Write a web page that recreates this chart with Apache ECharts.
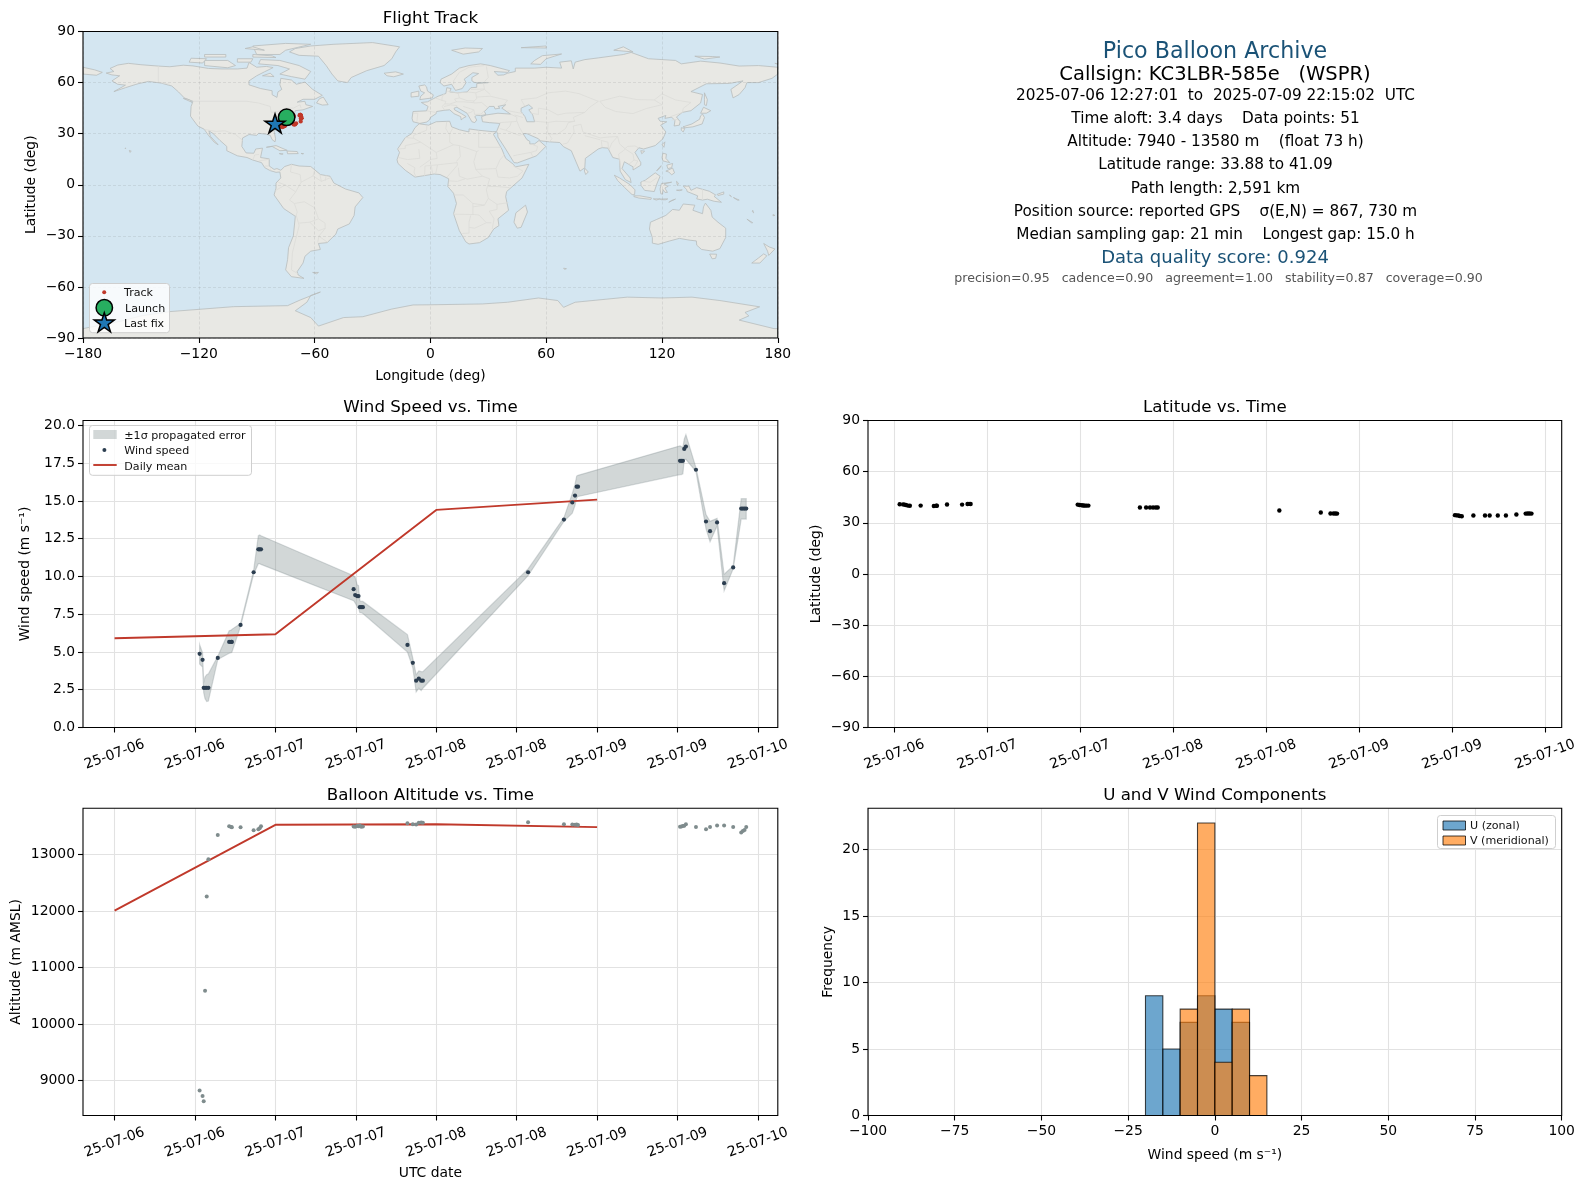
<!DOCTYPE html>
<html><head><meta charset="utf-8">
<style>html,body{margin:0;padding:0;background:#fff}#c{width:1586px;height:1189px}</style>
<script src="https://cdn.jsdelivr.net/npm/echarts@6/dist/echarts.min.js"></script>
</head><body><div id="c"></div>
<script>
// ---------- data ----------
const timeTickHours = [0,12,24,36,48,60,72,84,96];
const timeTickLabels = ['25-07-06','25-07-06','25-07-07','25-07-07','25-07-08','25-07-08','25-07-09','25-07-09','25-07-10'];
const latTickHours = [12,24,36,48,60,72,84,96];
const latTickLabels = ['25-07-06','25-07-07','25-07-07','25-07-08','25-07-08','25-07-09','25-07-09','25-07-10'];
const hours = [12.69,13.13,13.3,13.5,13.75,14.0,15.4,17.1,17.4,17.5,18.8,20.75,21.45,21.65,21.85,35.67,35.9,36.2,36.4,36.6,36.8,37.05,43.7,44.5,45.0,45.4,45.75,46.0,61.7,67.05,68.3,68.7,68.95,69.15,84.37,84.57,84.8,85.0,85.25,86.75,88.25,88.85,89.9,90.95,92.3,93.5,93.75,94.0,94.25];
const windSpeed = [4.88,4.48,2.63,2.63,2.63,2.63,4.61,5.67,5.67,5.67,6.79,10.28,11.8,11.8,11.8,9.16,8.77,8.7,8.7,7.97,7.97,7.97,5.47,4.28,3.1,3.23,3.1,3.1,10.28,13.77,14.9,15.36,15.95,15.95,17.66,17.66,17.66,18.45,18.6,17.07,13.64,13.0,13.58,9.56,10.6,14.5,14.5,14.5,14.5];
const windLow = [4.2,4.0,2.3,1.9,1.72,1.75,4.5,4.92,4.95,4.98,6.7,10.15,10.85,10.85,10.8,8.4,8.25,8.0,7.9,7.6,7.6,7.55,5.0,3.95,2.35,2.6,2.45,2.6,10.05,13.65,14.2,14.7,15.2,15.3,16.75,16.75,16.8,17.75,17.75,16.95,13.15,12.3,13.35,9.05,10.5,13.8,13.8,13.8,13.8];
const windHigh = [5.5,4.95,3.0,3.35,3.5,3.55,4.72,6.41,6.45,6.5,6.88,10.4,12.7,12.75,12.7,10.05,9.95,9.45,9.4,8.4,8.35,8.35,6.15,4.6,3.5,3.75,3.7,3.7,10.5,13.9,15.5,16.1,16.65,16.7,18.65,18.6,18.55,19.1,19.4,17.2,14.1,13.65,13.85,10.15,10.7,15.15,15.15,15.15,15.15];
const altitude = [8820,8720,8630,10590,12260,12918,13349,13503,13490,13486,13486,13432,13450,13470,13503,13500,13495,13510,13505,13520,13495,13500,13557,13540,13535,13565,13570,13565,13575,13540,13535,13530,13535,13525,13495,13500,13510,13515,13540,13490,13450,13490,13520,13520,13490,13395,13420,13440,13490];
const latitude = [40.9,40.8,40.7,40.5,40.1,40.0,40.1,39.9,40.0,40.0,40.75,40.7,41.0,41.09,41.05,40.7,40.5,40.3,40.2,40.1,40.1,40.1,39.0,39.0,39.0,39.0,39.0,39.0,37.2,36.1,35.5,35.5,35.5,35.4,34.5,34.4,34.3,34.0,33.88,34.3,34.3,34.3,34.3,34.3,34.9,35.4,35.5,35.5,35.4];
const longitude = [-74.5,-74.3,-74,-73.5,-73,-72.5,-71.5,-71,-71,-71,-70.9,-67.8,-67.5,-67.4,-67.3,-67.2,-67.2,-67.2,-67.1,-67.1,-67,-67,-66.9,-66.8,-66.9,-66.9,-67,-67,-67.2,-69.6,-70,-70.3,-70.6,-70.9,-75.4,-75.7,-76,-76.4,-76.8,-77.5,-78,-78.5,-79,-79.4,-79.8,-80.1,-80.3,-80.6,-80.8];
const launchPoint = [-74.5,39.6];
const lastFixPoint = [-80.5,36];
const dailyHours = [0,24,48,72];
const dailyWind = [5.91,6.18,14.41,15.09];
const dailyAlt = [12010,13530,13540,13490];
const binLeft = [-20,-15,-10,-5,0,5,10];
const binWidth = 5;
const uCounts = [9,5,7,9,8,7,0];
const vCounts = [0,0,8,22,4,8,3];
const headerLines = [
 ['Pico Balloon Archive',52.7,22.2,'#1a5276',1215],
 ['Callsign: KC3LBR-585e   (WSPR)',75,19.5,'#000',1215],
 ['2025-07-06 12:27:01  to  2025-07-09 22:15:02  UTC',96.3,15.27,'#000',1215.5],
 ['Time aloft: 3.4 days    Data points: 51',119.5,15.27,'#000',1215.5],
 ['Altitude: 7940 - 13580 m    (float 73 h)',142.3,15.27,'#000',1215.5],
 ['Latitude range: 33.88 to 41.09',165.5,15.27,'#000',1215.5],
 ['Path length: 2,591 km',188.6,15.27,'#000',1215.5],
 ['Position source: reported GPS    σ(E,N) = 867, 730 m',212,15.27,'#000',1215.5],
 ['Median sampling gap: 21 min    Longest gap: 15.0 h',235,15.27,'#000',1215.5],
 ['Data quality score: 0.924',258.2,18,'#1a5276',1215],
 ['precision=0.95   cadence=0.90   agreement=1.00   stability=0.87   coverage=0.90',278.7,12.6,'#555',1218.5]
];
// Coastlines as lon/lat rings (rough reading of the map)
const landPolys = [
 // Americas
 [[-168,65.6],[-164,66.5],[-166,68.3],[-162,70.3],[-156.5,71.3],[-150,70.5],[-141,69.7],[-135,69.3],[-128,70.2],[-123,69.8],[-115,68.3],[-108,68],[-100,68],[-95,68.5],[-94,71.8],[-90,69],[-85,69.5],[-81.5,68.8],[-86,66.3],[-90,64],[-94,61],[-94,58.7],[-88,56.5],[-82,55.2],[-82,52.9],[-79.5,51.3],[-79,54.5],[-77,56],[-78,58.7],[-77.5,62.5],[-72,61.5],[-69.5,59],[-65,60.3],[-61,56],[-56,52.5],[-60,50.2],[-66,50.2],[-69,48.5],[-65,49],[-64.5,47],[-61,46],[-66,44],[-70,43.5],[-70.5,41.7],[-74,40.5],[-75.5,38],[-76,35],[-78,34],[-81,31.5],[-80.2,27],[-80.5,25.2],[-82,26.5],[-83,29],[-85,29.7],[-89,30.2],[-90,29],[-94,29.5],[-97.3,27.5],[-97.7,22.5],[-95.5,18.7],[-91.5,18.5],[-90.5,21],[-87,21.5],[-88,16],[-83.5,15.2],[-83.5,11],[-81,9],[-79.5,9.5],[-77.5,8.5],[-75.5,10.7],[-72,12],[-68,11],[-62,10.7],[-57,6],[-52,5],[-50,1],[-44,-2.5],[-37,-4.8],[-35,-7.5],[-39,-13],[-39.5,-18],[-42,-23],[-48,-26],[-49,-29],[-53.5,-34],[-58,-34.5],[-57,-38],[-62,-39],[-65,-42],[-66,-46],[-69,-51],[-68.5,-53],[-65.5,-55],[-72,-54],[-75,-50],[-74,-44],[-73.5,-37],[-71,-30],[-70,-18.5],[-76,-14],[-81,-6],[-80,-2],[-80,1],[-77.5,4],[-78,7.5],[-80,7.3],[-83,8.3],[-85.8,10],[-87.5,13],[-92,14.5],[-95,16],[-100,17],[-105.5,20],[-105.5,22.5],[-109,26],[-112.5,30],[-114.8,31.7],[-114,28.5],[-110,23.5],[-112,25],[-115,29],[-117.2,32.6],[-120.5,34.5],[-122.5,37.5],[-124.3,40.3],[-124,46],[-123,49],[-127.5,51],[-130.5,54.5],[-134,58],[-139.5,59.7],[-146,60.7],[-151.5,59.3],[-153,58.8],[-158,57],[-164,54.7],[-158,58.5],[-162,59],[-165,61],[-161,64],[-165,64.5]],
 // Greenland
 [[-73,78],[-68,76],[-58,75.5],[-54,70],[-51,65],[-48,61],[-43,60],[-41,63],[-33,67],[-24,70],[-20,74],[-18,78],[-16,81],[-30,83.5],[-50,82.5],[-62,81.5],[-70,80]],
 // Canadian Arctic
 [[-62,66.5],[-65,62],[-72,63.5],[-78,65],[-73,68],[-79,70],[-89,71],[-88,73.5],[-78,73],[-68,70]],
 [[-90,76.5],[-78,76.5],[-75,79],[-62,82.5],[-75,83],[-92,81.5]],
 [[-117,70],[-105,68.7],[-101,70],[-105,73],[-117,73]],
 [[-125,72],[-118,71.5],[-116,74],[-124,74.3]],
 [[-92,75],[-80,74.7],[-82,75.7],[-92,76.5]],
 [[-100,72],[-93,72],[-92,74],[-100,74]],
 [[-117,75],[-106,75],[-106,76.5],[-117,76.5]],
 [[-96,80],[-86,79],[-92,81]],
 [[-87,64],[-81,63.5],[-83,65.5]],
 [[-59,48],[-56,46.8],[-53,47],[-55.5,51.5],[-57.5,50.5]],
 [[-128,50.7],[-123.5,48.4],[-125,50]],
 // Caribbean, Pacific
 [[-85,22],[-80,23],[-74.2,20.2],[-78,20],[-82,22.5]],
 [[-74.3,19.8],[-69,19.5],[-68.5,18.3],[-74,18.2]],
 [[-78.3,18.3],[-76.3,18.1],[-77,17.9]],
 [[-67,18.4],[-65.7,18.3],[-66,18]],
 [[-156,20.2],[-155,19.7],[-155.7,19]],
 [[-158,21.6],[-157.7,21.3],[-158.2,21.3]],
 // Iceland, British Isles
 [[-24,65.5],[-18,66.3],[-14,65],[-19,63.4],[-22.5,64]],
 [[-10,54],[-6,55],[-6,52],[-10,51.5]],
 [[-5.5,50],[1,51],[1.5,52.8],[-1.5,55],[-2,57.5],[-3,58.6],[-6,58],[-5,55],[-3,54],[-5,52]],
 // Eurasia
 [[-9,37],[-9.5,39],[-9,43],[-2,43.4],[-1.2,46],[-4.7,48.3],[-1.5,48.7],[1.5,50.5],[4,52],[8,53.6],[8.5,57],[10.7,56.5],[10,54.5],[14,54],[19,54.5],[21,57],[24,57.2],[24,59.4],[30,60],[23,60],[21.5,61],[21.5,63],[25,65.3],[22,65.8],[17.5,62],[18.5,60],[16.5,56.5],[13,55.4],[11,59],[7,58],[5,60],[5.5,62],[11,65],[15,68.5],[20,70],[26,71],[31,70],[41,67],[40,66],[33,66.5],[35,64.3],[38,64.5],[40,65.5],[44,66.5],[44,68.5],[54,68.5],[60,69],[68,68.5],[67,72],[73,72.8],[74,68],[75,72],[80,73.5],[87,74.5],[100,76.5],[104,77.7],[113,74],[127,73],[130,71],[140,72.6],[150,71.5],[160,69.7],[170,70],[180,69],[180,65],[177,62.5],[170,60],[164,60],[163,57],[160,53],[156.8,51],[155.7,56],[162,61],[155,59.5],[143,59.3],[135,54.7],[141,53],[140,48],[135,43.5],[130.5,42.5],[127.5,39.8],[129.4,37],[129,35],[126.3,34.5],[126.7,37.7],[125,39.7],[121.5,39],[122,40.7],[118,39],[119,37.3],[122.5,37],[119.3,35],[122,31],[120.5,27],[116.5,23],[110.5,21],[108,21.7],[106,19],[109,13],[109,11.5],[105,8.7],[105,10.5],[100.5,13.5],[99.3,9.5],[103.5,4],[104,1.3],[101,3],[98.3,8],[98,15],[94.5,16],[92,21.5],[89,21.8],[87,21],[80.3,15.5],[80,10],[77.5,8],[73,20],[69,22.3],[67,24.8],[61.5,25.2],[57,25.8],[56,27],[50,30],[48,30],[50,26.5],[51.5,25.5],[51.5,24],[54,24],[56.3,26],[59.8,22.5],[55,17],[45,12.8],[43.3,13],[39,21],[35,28],[34.9,29.5],[34.3,31.3],[36,36],[30.5,36.5],[27,37],[26.5,40],[29,41],[35,42],[41.5,41.5],[37,45],[39,47],[35,46],[36,45],[33.5,44.5],[33,46],[30.5,46],[28,43],[28.8,41.2],[26,40.6],[24,40.8],[23,40],[24,38],[23,36.5],[21.5,37],[19.5,41],[19,42],[13.7,45.5],[12.3,45],[12.5,44],[16,41.8],[18.5,40],[16.8,39],[16,38],[15.7,40],[12.3,41.7],[10,44],[7,43.7],[3.2,43],[3,41.8],[0,39.5],[-0.5,38],[-2,36.8],[-5.5,36]],
 [[-180,69],[-174,67.5],[-170,66],[-173,64.3],[-180,65]],
 // Africa, Madagascar
 [[-5.8,35.8],[-1,35],[3,37],[10,37.3],[11,34],[15,32.3],[20,31],[20,32.8],[25,32],[32,31.2],[34,31.2],[32.7,29.5],[34,27],[37,21],[39,15.5],[43,12],[44,10.5],[51,12],[47.5,4],[39.5,-4],[39,-7],[40.5,-15],[35,-20],[35.5,-24],[32.8,-26],[30,-31],[25.5,-34],[20,-34.8],[18.3,-33.5],[15,-27],[12,-17],[13.5,-11],[12,-5],[9,-1],[9.5,3.5],[5,6],[2,6.3],[-4,5.2],[-8,4.5],[-13,8.5],[-16.8,12.5],[-17.3,14.7],[-16,19],[-17,21],[-13,27.7],[-9.7,30],[-8,33.5]],
 [[49.3,-12],[50.3,-16],[47,-25],[45,-25.5],[43.3,-22],[44.3,-16.5]],
 // Asia islands
 [[80,9.7],[81.8,7.5],[80.5,6],[79.8,8]],
 [[141,41.5],[142,39.5],[140.8,35.7],[136,34],[132,33.5],[130.9,34],[135.5,35.7],[139.5,38.5],[140,40.5]],
 [[141.5,45.5],[145.3,43.5],[143,42],[140,42]],
 [[130,33.5],[131.8,33],[131,31],[130,32]],
 [[142,54],[143.5,50],[143,46.5],[142,47],[142,50]],
 [[121.5,25.2],[121,22],[120,23.5]],
 [[109,20],[111,19.7],[109.5,18.2]],
 [[120.5,18.5],[122.3,18],[122,15.5],[124,13],[120.5,14],[120,16]],
 [[122,8],[125.5,9.8],[126.5,7],[125,5.8],[123.5,7.5]],
 [[122.5,11.5],[125.5,12.5],[125,10],[123,9.5]],
 [[117.2,8.3],[119.5,11.2],[119.3,10.3],[117.5,8.3]],
 [[95.3,5.6],[98,4],[103.5,0],[106,-3],[105.8,-5.8],[104.5,-5.8],[100.5,-1.5],[97,2.5]],
 [[105.3,-6.5],[108.5,-6.5],[114.5,-7.7],[114.3,-8.6],[108,-7.8],[105.5,-7]],
 [[109,1.5],[111.5,2.8],[116.5,7],[119,5],[117.5,1],[116,-4],[111,-3.3],[109.2,-0.5]],
 [[119.7,0.7],[125,1.5],[121,0.5],[123.2,-0.9],[121.5,-1.9],[122.8,-4.5],[121.5,-4.5],[120.5,-2.8],[120.3,-5.5],[119.4,-5.3],[119,-2.5]],
 [[123.5,-10.3],[127,-8.4],[125,-9.2]],
 [[119,-8.4],[123,-8.3],[122,-8.8],[119.5,-8.8]],
 [[115.5,-8.3],[119,-8.3],[117,-9]],
 [[127.5,-3.2],[130.5,-3],[129,-3.5]],
 [[127.5,2],[128.5,1],[128,-0.5]],
 [[131,-0.8],[134,-0.8],[135,-3.3],[138,-1.7],[144.5,-3.8],[147.8,-6],[147,-6.8],[150.8,-10.3],[147,-9.7],[143.5,-8.5],[141,-9],[138,-8.3],[138.5,-6.5],[133,-4],[132.8,-2.8]],
 [[148.5,-5.7],[152,-4.2],[152,-5.5],[149,-6.3]],
 [[155,-6],[156,-7],[155.5,-6.7]],
 [[157,-7.5],[160,-9],[159,-9]],
 [[164,-20.2],[167,-22.3],[166.3,-22.3]],
 [[167,-15],[167.5,-16.5],[166.8,-15.8]],
 [[177.5,-17.5],[178.5,-18],[177.5,-18.2]],
 // Australia, NZ
 [[114,-22],[113.5,-26],[115,-31],[115,-34.3],[118,-35],[124,-33],[129,-31.5],[134,-32.5],[137.8,-33],[138,-35.5],[140.5,-38],[146.3,-39],[150,-37.5],[153,-31],[153,-25.5],[149,-22],[146,-19],[145.3,-15],[142.5,-10.8],[141.5,-13],[141,-17],[136,-15],[137,-12],[131,-11.3],[129,-15],[125.5,-14.5],[122,-18],[117,-20.5]],
 [[144.7,-40.7],[148.3,-40.8],[147.8,-43.2],[146,-43.5]],
 [[172.7,-40.6],[174.3,-41.7],[170.7,-46],[166.5,-46],[170,-43]],
 [[172.7,-34.5],[175.5,-36.5],[178.5,-37.7],[175.3,-41.5],[174.7,-39]],
 [[69,-49],[70.5,-49.3],[69.5,-49.7]],
 [[-61,-51.5],[-58,-51.5],[-59,-52.3]],
 // Arctic Eurasia
 [[11,79],[17,76.7],[25,78],[27,80],[18,80.3]],
 [[52,71],[57,70.7],[60,74],[68,76.8],[58,75.8],[54,73]],
 [[95,79],[105,78],[100,81]],
 [[137,75.5],[146,75.3],[150,75],[142,73.8]],
 [[178.5,71.3],[180,71],[180,70.8]],
 [[47,80.5],[60,80.3],[60,81.5]],
 // Antarctica
 [[-180,-84.5],[-160,-80],[-150,-77],[-135,-74.5],[-102,-71.6],[-74,-71],[-67.5,-67.7],[-57,-63],[-62,-65],[-64,-69],[-70,-74],[-62,-78],[-58,-83],[-45,-78],[-35,-77.5],[-20,-73],[-9,-70.6],[0,-70.5],[27,-70],[40,-69],[56,-66.5],[66,-68],[69,-72],[75,-69],[102,-66],[120,-66.5],[135.5,-66],[150,-68],[170.6,-71.7],[163,-75],[165,-77],[160,-79.5],[178,-84.5],[180,-84.5],[180,-90],[-180,-90]]
];
const inlandWater = [
 [[47,45],[51,47],[53,45],[51,44],[53,41],[54,37],[50,37],[49,40],[47,43]]
];
const borderLines = [
 [[-123,49],[-95,49],[-89,48],[-83,46],[-82.5,42.5],[-79,43],[-75,45],[-71,45],[-67.5,47],[-67,45]],
 [[-141,69.7],[-141,60.3],[-135,59]],
 [[-117,32.5],[-111,31.3],[-106.5,31.7],[-101,29.5],[-97.2,26]],
 [[-92,14.6],[-91,17.5],[-88.8,17.8]],[[-89,14],[-83.2,15]],[[-85.7,11],[-83.7,11]],[[-83,8.4],[-82.8,9.5]],
 [[-72,12],[-72.5,7.5],[-67.5,6],[-67,1.5],[-69.8,-4.2]],[[-78.8,1.4],[-75.2,-0.1],[-69.8,-4.2],[-73,-9],[-70.5,-11]],[[-80.3,-3.4],[-75.2,-0.1]],
 [[-70.5,-11],[-65.3,-10],[-60,-13.5],[-58,-20]],[[-70.5,-11],[-69,-16],[-69.5,-18],[-70.3,-18.3]],[[-69.5,-18],[-68,-24],[-70,-33],[-71.5,-40],[-72,-50],[-68.5,-52.3]],
 [[-68,-22.5],[-62.5,-22],[-58,-20]],[[-62.5,-22],[-58,-27],[-54.5,-25.6],[-54.6,-22.5],[-58,-20]],[[-54.5,-25.6],[-57.8,-30.2],[-58.4,-33.9]],[[-57.8,-30.2],[-53.4,-33.7]],
 [[-60,8.5],[-60.8,5.2],[-67,1.5]],[[-60.8,5.2],[-56.5,2],[-51.7,4.2]],[[-57.2,5.9],[-56.5,2]],[[-54,5.8],[-54.5,2.3]],
 [[-1.8,35],[-2,32],[-8.7,29],[-8.7,27.3],[-13,27.7]],[[8.5,37],[8,33],[9.5,30]],[[11.5,33],[10,30],[10,25],[12,23.5]],[[25,31.7],[25,22],[37,22]],[[25,20],[24,19.5],[15,23],[12,23.5],[3,19],[-5,25],[-8.7,27.3]],
 [[-17,21],[-13,21.3],[-13,23],[-5,25]],[[-6,21],[-5.5,15.5],[-12,14.8],[-16.5,16]],[[3,19],[3.5,15.4],[0.2,14.9],[-5.5,10.3]],[[15,23],[15.5,16.5],[13.5,13.7]],[[2.7,6.3],[3.7,11.7],[14,13],[14,11.5],[8.7,4.6]],
 [[24,19.5],[22.5,13.5],[23.5,9],[34,9.5],[36,14.5],[38.6,18]],[[14.5,10],[15,5],[19,3.3],[27,5],[23.5,9]],[[12.3,-6],[17,-6],[22,-11],[28,-12],[30,-8],[29,-3],[30.7,3.5],[27,5]],[[9.5,2.3],[14,2],[18,3.5]],
 [[43,11],[48,8],[45,5],[41,4],[35,4.5],[34,9.5]],[[41,-1.7],[34,-1],[30,-1]],[[30,-8],[34.5,-11.5],[40.4,-10.5]],[[34.5,-11.5],[34.5,-14.5],[30.5,-15.5],[33,-20],[32,-26]],[[11.8,-17.3],[23,-17.5],[25.2,-17.8]],[[22,-11],[22,-13],[22,-17.5]],[[16.5,-28.6],[20,-28.4],[20,-22],[20.9,-18]],[[20,-25],[23,-25.5],[29,-22.3]],[[25.2,-17.8],[29,-22.3],[31.5,-22.3]],[[22,-13],[28,-12]],
 [[-8.5,7.5],[-7.5,4.4]],[[-3,5],[-2.8,11]],[[1.2,6.1],[0.5,11]],[[-2.8,11],[3.5,11.7]],[[-12,12.5],[-8,10],[-8.5,7.5]],
 [[-1.8,43.4],[3.2,42.4]],[[-8.8,42],[-6.5,42],[-7,37.2]],[[2.5,51],[6,49.5],[8,49],[7.5,47.5],[6,46],[7.5,43.8]],[[7,53.4],[6,51],[6,49.5]],[[8.8,54.9],[14.3,54],[15,51],[12.5,50.3],[13.5,48.7],[10,47.4],[7.5,47.5]],[[7,45.9],[10.5,46.9],[13.7,46.5],[13.7,45.6]],
 [[14.3,54],[19.7,54.4],[23.5,54],[24,50.5],[22.5,49.2],[19,49.4],[15,51]],[[13.5,48.7],[17,48.7],[22.5,48.2],[22.5,49.2]],[[17,46],[22.5,44],[22.9,41.3],[26.3,41.5],[28,43.7]],[[19.3,42],[21,42.5],[22.5,44]],[[22.5,48],[26.6,48.3],[29.7,45.3]],[[24,51.5],[31,52],[40,49.6],[38,47]],[[23.5,54],[28,56],[31,53]],[[28,60.5],[30,63],[29,69.5]],[[12,59],[12,61],[15,66],[20,69],[28,70]],[[21,56],[28,56.2],[27.5,59.5]],
 [[36,36.5],[44.7,37.2],[44.8,39.7],[41.5,41.5]],[[36,33],[39,32],[41.2,34.5],[42,37]],[[39,32],[46,29],[48,29.8]],[[44.8,37.5],[46,34],[48,30]],[[43,17],[45,17.5],[52,19],[55,20],[55.5,22.5],[52,24]],[[52,19],[53,16.7]],[[61,36.6],[60.7,31],[63,27],[61.6,25.2]],[[60.7,29.8],[66,29.8],[70,33],[71.5,36.5],[74.8,37.3]],[[54,37.3],[61,36.6],[65,37.3],[71.5,37],[74.8,37.3]],
 [[68.5,23.8],[71,24.5],[74.5,31],[74,34.5],[78,35.5],[79,31],[81,30.2],[88,27.5],[92,28],[97,28.3]],[[80,28.8],[88,26.4]],[[89,22],[88.5,26],[92,25],[92.3,21]],[[92.5,20.5],[94,24.5],[97,28.3],[98,24],[101,21],[100,20],[97.5,18],[98.6,10]],[[101,21],[105,18],[105.5,14.5],[102.8,12]],[[105.5,14.5],[107.5,14],[106,11],[105,10.4]],[[101,21.3],[102,22.5],[106,22.8],[108,21.6]],
 [[87.8,49],[98,52],[107,50],[116,49.8],[120,47],[112,44.8],[105,41.8],[96,43],[90.5,45.5],[87.8,49]],[[49,46],[47,50],[55,51],[61,54],[70,55],[77,53.5],[87,49]],[[52,42],[56,41.3],[56,45],[61,44],[66,41],[70,42],[80,42.5],[82.5,45.5],[87,49]],[[74,39.5],[80,42.5]],[[74,39.5],[74.8,37.3]],[[116,49.8],[120,53.4],[127,49.8],[135,48.3],[131,44.9],[130.6,42.5]],[[124.4,40],[130.6,42.5]],[[125,38],[128.5,38.5]],[[40,43.5],[48,41.8]],[[43.5,41],[48,39.5]],
 [[141,-2.6],[141,-9]],[[109.7,2],[114,1.5],[117.5,4.2]]
];
// ---------- colours & frame ----------
const FONT = 'DejaVu Sans';
const RED = '#c0392b', NAVY = '#2c3e50', GREY = '#7f8c8d';
const cols = {l:[83,694.8], r:[868,693.7]};
const rows = [[31.5,306.5],[420.5,307],[808.3,307.2]];
const panels = [
 {x:cols.l, y:rows[0], title:'Flight Track'},
 {x:cols.l, y:rows[1], title:'Wind Speed vs. Time'},
 {x:cols.r, y:rows[1], title:'Latitude vs. Time'},
 {x:cols.l, y:rows[2], title:'Balloon Altitude vs. Time'},
 {x:cols.r, y:rows[2], title:'U and V Wind Components'}
];
const minus = s => String(s).replace('-', '\u2212');
const gridLine = {show:true, lineStyle:{color:'#e2e2e2', width:1.1}};
const mapGridLine = {show:true, lineStyle:{color:'rgba(120,120,120,0.2)', width:0.8, type:[3,2]}};
const tick = {show:true, length:5, lineStyle:{color:'#000', width:1.1}};
const hiddenLine = {show:false, onZero:false};
const labelBase = {color:'#000', fontSize:13.9, fontFamily:FONT, margin:9};
const yLabelBase = Object.assign({}, labelBase, {margin:8, padding:[4,0,0,0]});
function nameBase(name, gap){
 return {name, nameLocation:'middle', nameGap:gap, nameTextStyle:{color:'#000', fontSize:13.9, fontFamily:FONT}};
}
function timeAxis(gi, tv, tl, min, max, extra){
 return Object.assign({type:'value', gridIndex:gi, min, max,
  axisLine:hiddenLine, axisTick:Object.assign({}, tick, {customValues:tv}), splitLine:gridLine,
  axisLabel:Object.assign({}, labelBase, {customValues:tv, rotate:20, align:'center', verticalAlign:'middle', margin:27,
    formatter:v=>tl[tv.indexOf(v)]})}, extra||{});
}
function yAx(gi, min, max, vals, fmt, name, gap){
 return Object.assign({type:'value', gridIndex:gi, min, max, axisLine:hiddenLine,
  axisTick:Object.assign({}, tick, {customValues:vals}), splitLine:gridLine,
  axisLabel:Object.assign({}, yLabelBase, {customValues:vals, formatter:fmt})}, nameBase(name, gap));
}
// ---------- text and frames ----------
const graphics = [];
panels.forEach(p=>{
 graphics.push({type:'rect', z:90, silent:true, shape:{x:p.x[0], y:p.y[0], width:p.x[1], height:p.y[1]},
   style:{fill:'none', stroke:'#000', lineWidth:1.1}});
 graphics.push({type:'text', z:90, x:p.x[0]+p.x[1]/2, y:p.y[0]-12.8, silent:true,
   style:{text:p.title, fontSize:16.67, fontFamily:FONT, fill:'#000', align:'center', verticalAlign:'middle'}});
});
headerLines.forEach(l=>graphics.push({type:'text', z:90, x:l[4], y:l[1], silent:true,
   style:{text:l[0], fontSize:l[2], fontFamily:FONT, fill:l[3], align:'center', verticalAlign:'middle'}}));
function lbox(x,y,w,h){ graphics.push({type:'rect', z:91, silent:true, shape:{x,y,width:w,height:h,r:3},
   style:{fill:'rgba(255,255,255,0.8)', stroke:'#cfcfcf', lineWidth:1}}); }
function ltext(t,x,y){ graphics.push({type:'text', z:92, x, y:y+0.8, silent:true,
   style:{text:t, fontSize:11.1, fontFamily:FONT, fill:'#111', verticalAlign:'middle'}}); }
function lcircle(x,y,r,fill,stroke,lw){ graphics.push({type:'circle', z:92, silent:true, shape:{cx:x,cy:y,r},
   style:{fill, stroke:stroke||'none', lineWidth:lw||0}}); }
function lstar(cx,cy,r,fill){ const pts=[]; for(let i=0;i<10;i++){const a=-Math.PI/2+i*Math.PI/5, q=i%2?r*0.382:r; pts.push([cx+q*Math.cos(a),cy+q*Math.sin(a)]);}
 graphics.push({type:'polygon', z:92, silent:true, shape:{points:pts}, style:{fill, stroke:'#000', lineWidth:1.5, lineJoin:'miter'}}); }
function lrect(x,y,w,h,fill,stroke){ graphics.push({type:'rect', z:92, silent:true, shape:{x,y,width:w,height:h}, style:{fill, stroke:stroke||'none', lineWidth:stroke?1:0}}); }
function lline(x1,x2,y,c){ graphics.push({type:'line', z:92, silent:true, shape:{x1,y1:y,x2,y2:y}, style:{stroke:c, lineWidth:1.9}}); }
// map legend
lbox(89.5,283.5,80,49.2);
lcircle(104.2,292.3,2,RED);
ltext('Track',124,292.3);
lcircle(104.3,307.7,8.2,'#27ae60','#000',1.5);
ltext('Launch',125,308.3);
lstar(104.3,323.3,10.5,'#1f77b4');
ltext('Last fix',124,323.3);
// wind legend
lbox(89.5,425.5,162,49.8);
lrect(93.3,430,23.4,9,'rgba(127,140,141,0.35)');
ltext('\u00b11\u03c3 propagated error',124.3,435.3);
lcircle(104.4,450,2,NAVY);
ltext('Wind speed',124.3,450);
lline(93.3,116.7,465,RED);
ltext('Daily mean',124.3,466);
// histogram legend
lbox(1437.5,815.5,118,33);
lrect(1443,821,22.5,9,'rgba(31,119,180,0.65)','rgba(0,0,0,0.75)');
ltext('U (zonal)',1470,825.5);
lrect(1443,836,22.5,9,'rgba(255,127,14,0.65)','rgba(0,0,0,0.75)');
ltext('V (meridional)',1470,840.5);
// ---------- series helpers ----------
const scatter = (xi, yi, data, color, size) => ({type:'scatter', xAxisIndex:xi, yAxisIndex:yi, data, symbolSize:size, silent:true, z:6, itemStyle:{color, opacity:1}});
const daily = (xi, yi, data) => ({type:'line', xAxisIndex:xi, yAxisIndex:yi, data, symbol:'none', silent:true, z:5, lineStyle:{color:RED, width:1.9}});
const zip = (a,b) => a.map((v,i)=>[v,b[i]]);
function polySeries(list, fill, stroke, lw, z){
 return {type:'custom', xAxisIndex:0, yAxisIndex:0, z, silent:true, clip:true, data:list.map((_,i)=>[i]),
  renderItem:(params, api)=>({type:'polygon', shape:{points:list[params.dataIndex].map(p=>api.coord(p))}, style:{fill, stroke, lineWidth:lw}})};
}
const borderSeries = {type:'custom', xAxisIndex:0, yAxisIndex:0, z:2, silent:true, clip:true, data:borderLines.map((_,i)=>[i]),
  renderItem:(params, api)=>({type:'polyline', shape:{points:borderLines[params.dataIndex].map(p=>api.coord(p))}, style:{fill:'none', stroke:'#dcdcd8', lineWidth:0.8}})};
const bandSeries = {type:'custom', xAxisIndex:1, yAxisIndex:1, z:3, silent:true, clip:true, data:[[0]],
  renderItem:(params, api)=>{
    const up = hours.map((h,i)=>api.coord([h,windHigh[i]]));
    const lo = hours.map((h,i)=>api.coord([h,windLow[i]])).reverse();
    return {type:'polygon', shape:{points:up.concat(lo)}, style:{fill:'rgba(127,140,141,0.35)', stroke:'rgba(127,140,141,0.3)', lineWidth:1.2}};
  }};
function histSeries(counts, fill, z){
 const rows_ = binLeft.map((b,i)=>[b,b+binWidth,counts[i]]).filter(r=>r[2]>0);
 return {type:'custom', xAxisIndex:4, yAxisIndex:4, z, silent:true, data:rows_, encode:{x:[0,1], y:2},
  renderItem:(params, api)=>{
   const a = api.coord([api.value(0),api.value(2)]), b = api.coord([api.value(1),0]);
   return {type:'rect', shape:{x:a[0], y:a[1], width:b[0]-a[0], height:b[1]-a[1]}, style:{fill, stroke:'rgba(0,0,0,0.72)', lineWidth:1.1}};
  }};
}
// ---------- option ----------
const option = {
 animation:false,
 backgroundColor:'#fff',
 textStyle:{fontFamily:FONT},
 grid: panels.map((p,i)=>({left:p.x[0], top:p.y[0], width:p.x[1], height:p.y[1], containLabel:false,
   show:i===0, backgroundColor:'#d4e6f1', borderWidth:0})),
 xAxis:[
  Object.assign({type:'value', gridIndex:0, min:-180, max:180, interval:60, z:5, axisLine:hiddenLine, axisTick:tick,
    splitLine:mapGridLine,
    axisLabel:Object.assign({}, labelBase, {formatter:minus})}, nameBase('Longitude (deg)', 31)),
  timeAxis(1, timeTickHours, timeTickLabels, -4.71, 98.96),
  timeAxis(2, latTickHours, latTickLabels, 8.6, 98.15),
  timeAxis(3, timeTickHours, timeTickLabels, -4.71, 98.96, nameBase('UTC date', 51)),
  Object.assign({type:'value', gridIndex:4, min:-100, max:100, interval:25, axisLine:hiddenLine, axisTick:tick, splitLine:gridLine,
    axisLabel:Object.assign({}, labelBase, {formatter:minus})}, nameBase('Wind speed (m s\u207b\u00b9)', 33))
 ],
 yAxis:[
  Object.assign({type:'value', gridIndex:0, min:-90, max:90, interval:30, z:5, axisLine:hiddenLine, axisTick:tick,
    splitLine:mapGridLine,
    axisLabel:Object.assign({}, yLabelBase, {formatter:minus})}, nameBase('Latitude (deg)', 45)),
  yAx(1, 0, 20.33, [0,2.5,5,7.5,10,12.5,15,17.5,20], v=>v.toFixed(1), 'Wind speed (m s\u207b\u00b9)', 51),
  yAx(2, -90, 90, [-90,-60,-30,0,30,60,90], minus, 'Latitude (deg)', 45),
  yAx(3, 8376, 13823, [9000,10000,11000,12000,13000], v=>String(v), 'Altitude (m AMSL)', 60),
  yAx(4, 0, 23.1, [0,5,10,15,20], v=>String(v), 'Frequency', 33)
 ],
 series:[
  polySeries(landPolys,'#e8e8e4','#b7bdbd',0.8,1),
  polySeries(inlandWater,'#d4e6f1','#b7bdbd',0.8,1.5),
  borderSeries,
  scatter(0,0,zip(longitude,latitude),RED,4.2),
  {type:'scatter', xAxisIndex:0, yAxisIndex:0, data:[launchPoint], symbol:'circle', symbolSize:16.5, z:7, silent:true, itemStyle:{color:'#27ae60', borderColor:'#000', borderWidth:1.5, opacity:1}},
  {type:'scatter', xAxisIndex:0, yAxisIndex:0, data:[lastFixPoint], z:8, silent:true, symbolKeepAspect:true, symbolSize:20,
    symbol:'path://M50 0L61.2 34.55L97.55 34.55L68.16 55.9L79.39 90.45L50 69.1L20.61 90.45L31.84 55.9L2.45 34.55L38.8 34.55Z',
    itemStyle:{color:'#1f77b4', borderColor:'#000', borderWidth:1.5, opacity:1}},
  bandSeries,
  scatter(1,1,zip(hours,windSpeed),NAVY,4.2),
  daily(1,1,zip(dailyHours,dailyWind)),
  scatter(2,2,zip(hours,latitude),'#000',4.4),
  scatter(3,3,zip(hours,altitude),GREY,4),
  daily(3,3,zip(dailyHours,dailyAlt)),
  histSeries(uCounts,'rgba(31,119,180,0.65)',3),
  histSeries(vCounts,'rgba(255,127,14,0.65)',4)
 ],
 graphic:{elements:graphics}
};
echarts.init(document.getElementById('c')).setOption(option);
</script></body></html>
